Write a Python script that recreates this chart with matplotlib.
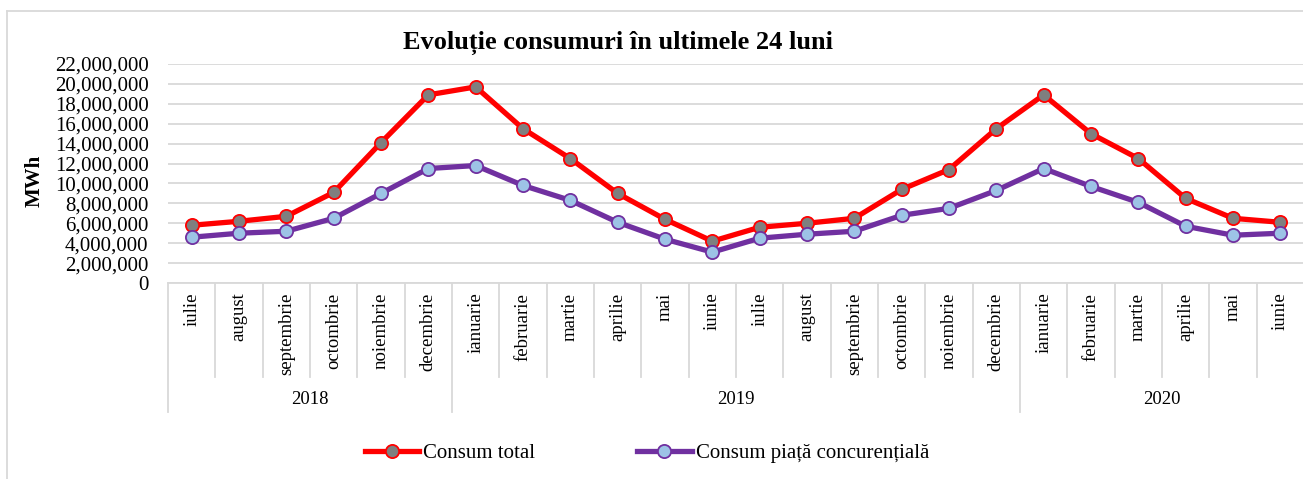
import numpy as np
import matplotlib
matplotlib.use("Agg")
import matplotlib.pyplot as plt
from matplotlib.lines import Line2D
from matplotlib.ticker import FuncFormatter

plt.rcParams['font.family'] = ['Liberation Serif', 'DejaVu Serif']

# data
months = ["iulie", "august", "septembrie", "octombrie", "noiembrie", "decembrie",
          "ianuarie", "februarie", "martie", "aprilie", "mai", "iunie",
          "iulie", "august", "septembrie", "octombrie", "noiembrie", "decembrie",
          "ianuarie", "februarie", "martie", "aprilie", "mai", "iunie"]
years = ["2018", "2019", "2020"]
year_counts = [6, 12, 6]

consum_total = [5.8e6, 6.2e6, 6.7e6, 9.1e6, 14.1e6, 18.9e6,
                19.7e6, 15.5e6, 12.5e6, 9.0e6, 6.4e6, 4.2e6,
                5.6e6, 6.0e6, 6.5e6, 9.4e6, 11.4e6, 15.5e6,
                18.9e6, 15.0e6, 12.5e6, 8.5e6, 6.5e6, 6.1e6]
consum_piata = [4.6e6, 5.0e6, 5.2e6, 6.5e6, 9.0e6, 11.5e6,
                11.8e6, 9.8e6, 8.3e6, 6.1e6, 4.4e6, 3.1e6,
                4.5e6, 4.9e6, 5.2e6, 6.8e6, 7.5e6, 9.3e6,
                11.5e6, 9.7e6, 8.1e6, 5.7e6, 4.8e6, 5.0e6]

W, H = 1303, 479
fig = plt.figure(figsize=(W / 100, H / 100), dpi=100)

# plot area in pixels: x 168..1303, y 64..283
ax_l, ax_r, ax_t, ax_b = 168, 1304, 64, 283
ax = fig.add_axes([ax_l / W, (H - ax_b) / H, (ax_r - ax_l) / W, (ax_b - ax_t) / H])
ax_h = ax_b - ax_t

grid_col = "#D9D9D9"
x = np.arange(len(months))

ax.plot(x, consum_total, color="#FF0000", lw=3.8, marker="o", ms=9.5,
        mfc="#7F7F7F", mec="#FF0000", mew=1.3, label="Consum total", zorder=3)
ax.plot(x, consum_piata, color="#7030A0", lw=3.8, marker="o", ms=9.5,
        mfc="#9DC3E6", mec="#7030A0", mew=1.3, label="Consum piață concurențială", zorder=3)

ax.set_xlim(-0.5, len(months) - 0.5)
ax.set_ylim(0, 22e6)
ax.set_yticks(np.arange(0, 22e6 + 1, 2e6))
ax.yaxis.set_major_formatter(FuncFormatter(lambda v, p: f"{int(v):,}"))
ax.tick_params(axis="y", length=0, pad=14, labelsize=15)
ax.grid(axis="y", color=grid_col, lw=1.3)
ax.set_axisbelow(True)
for s in ["left", "right", "top"]:
    ax.spines[s].set_visible(False)
ax.spines["bottom"].set_color(grid_col)
ax.spines["bottom"].set_linewidth(1.3)

ax.set_xticks(x)
ax.set_xticklabels(months, rotation=90, fontsize=13.5)
ax.tick_params(axis="x", length=0, pad=7)

# category box lines below the axis
trans = ax.get_xaxis_transform()
month_bot = -(377 - ax_b) / ax_h
year_bot = -(412 - ax_b) / ax_h
bounds = np.cumsum([0] + year_counts) - 0.5
for b in np.arange(-0.5, len(months), 1.0):
    bot = year_bot if b in bounds else month_bot
    ax.plot([b, b], [0, bot], color=grid_col, lw=1.3, transform=trans, clip_on=False)

start = 0
for yr, n in zip(years, year_counts):
    ax.text(start + (n - 1) / 2, -(400 - ax_b) / ax_h, yr, transform=trans,
            ha="center", va="center", fontsize=13.5)
    start += n

# title, y label
fig.text(618 / W, (H - 49) / H, "Evoluție consumuri în ultimele 24 luni",
         ha="center", va="baseline", fontsize=19, fontweight="bold")
fig.text(35 / W, (H - 181) / H, "MWh", rotation=90, ha="center", va="center",
         fontsize=15, fontweight="bold")

ax.legend(loc="center", bbox_to_anchor=(647 / W, (H - 453) / H),
          bbox_transform=fig.transFigure, ncol=2, frameon=False, fontsize=15,
          handlelength=2.6, handletextpad=0.2, columnspacing=4.9, borderpad=0)

# chart frame (left and top edges visible)
fig.add_artist(Line2D([7 / W, 7 / W], [0, (H - 11) / H], color=grid_col, lw=1.3,
                      transform=fig.transFigure))
fig.add_artist(Line2D([7 / W, 1], [(H - 11) / H, (H - 11) / H], color=grid_col, lw=1.3,
                      transform=fig.transFigure))

fig.savefig("out.png", dpi=100)
